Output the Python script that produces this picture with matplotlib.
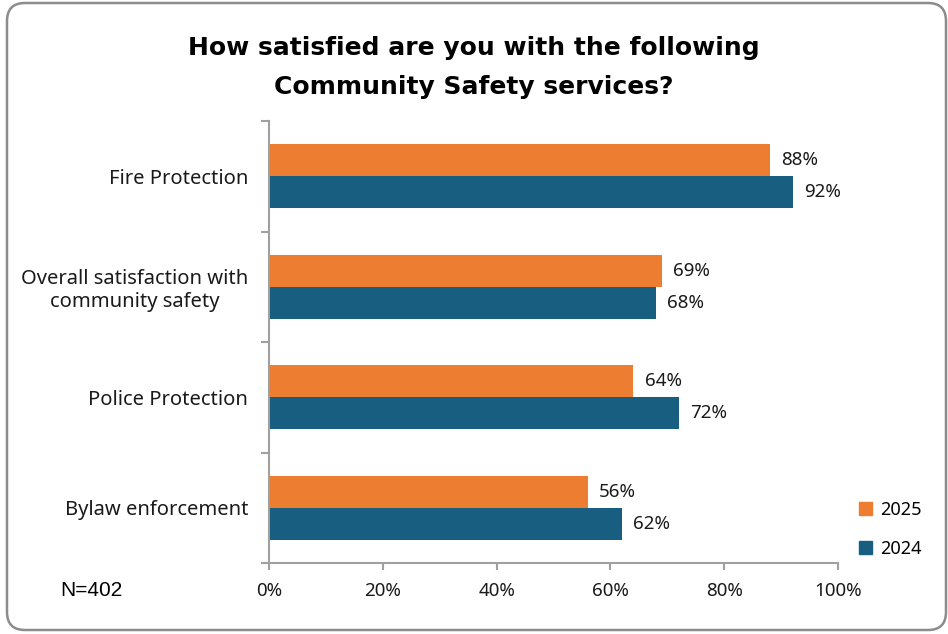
import matplotlib.pyplot as plt
from matplotlib.patches import FancyBboxPatch, Patch
from matplotlib.transforms import IdentityTransform
import numpy as np

# Survey results (% satisfied)
categories = ['Fire Protection', 'Overall satisfaction with\ncommunity safety',
              'Police Protection', 'Bylaw enforcement']
values_2025 = [88, 69, 64, 56]
values_2024 = [92, 68, 72, 62]
xticks = [0, 20, 40, 60, 80, 100]

orange = '#ED7D31'
blue = '#175E80'
axis_grey = '#A0A0A0'
text_color = '#1A1A1A'
label_font = 'Noto Sans'

fig = plt.figure(figsize=(9.48, 6.34), dpi=100)
ax = fig.add_axes([0.2838, 0.112, 0.6002, 0.697])

y = np.arange(len(categories))
h = 0.29
ax.barh(y - h / 2, values_2025, height=h, color=orange, label='2025')
ax.barh(y + h / 2, values_2024, height=h, color=blue, label='2024')

for yi, v in zip(y, values_2025):
    ax.text(v + 2.0, yi - h / 2, f'{v}%', va='center', ha='left',
            fontsize=13.5, family=label_font, color=text_color)
for yi, v in zip(y, values_2024):
    ax.text(v + 2.0, yi + h / 2, f'{v}%', va='center', ha='left',
            fontsize=13.5, family=label_font, color=text_color)

ax.set_xlim(0, 100)
ax.set_ylim(len(categories) - 0.5, -0.5)
ax.set_xticks(xticks)
ax.set_xticklabels([f'{t}%' for t in xticks], family=label_font, fontsize=13.5,
                   color=text_color)
ax.set_yticks(y)
ax.set_yticklabels(categories, family=label_font, fontsize=14.5,
                   multialignment='center', color=text_color)
ax.set_yticks(np.arange(-0.5, len(categories)), minor=True)
ax.tick_params(axis='y', which='major', length=0, pad=15)
ax.tick_params(axis='y', which='minor', length=6, color=axis_grey, width=1.5)
ax.tick_params(axis='x', length=5, color=axis_grey, width=1.5, pad=9)

for side in ['top', 'right']:
    ax.spines[side].set_visible(False)
for side in ['left', 'bottom']:
    ax.spines[side].set_color(axis_grey)
    ax.spines[side].set_linewidth(1.5)

fig.text(0.5, 0.894, 'How satisfied are you with the following\nCommunity Safety services?',
         ha='center', va='center', fontsize=18, fontweight='bold',
         family='DejaVu Sans', linespacing=1.78, color='black')

fig.text(0.0633, 0.068, 'N=402', ha='left', va='center', fontsize=15,
         family='Liberation Sans', color='black')

handles = [Patch(color=orange, label='2025'), Patch(color=blue, label='2024')]
fig.legend(handles=handles, loc='center left', bbox_to_anchor=(0.889, 0.165),
           frameon=False, handlelength=0.7, handleheight=0.7, handletextpad=0.45,
           labelspacing=1.15, prop={'family': label_font, 'size': 13})

# Rounded chart border, drawn in pixel units
border = FancyBboxPatch((7, 4), 939, 627, transform=IdentityTransform(),
                        boxstyle='round,pad=0,rounding_size=18',
                        fill=False, edgecolor='#8C8C8C', linewidth=1.8)
fig.patches.append(border)

fig.savefig('out.png', dpi=100)
